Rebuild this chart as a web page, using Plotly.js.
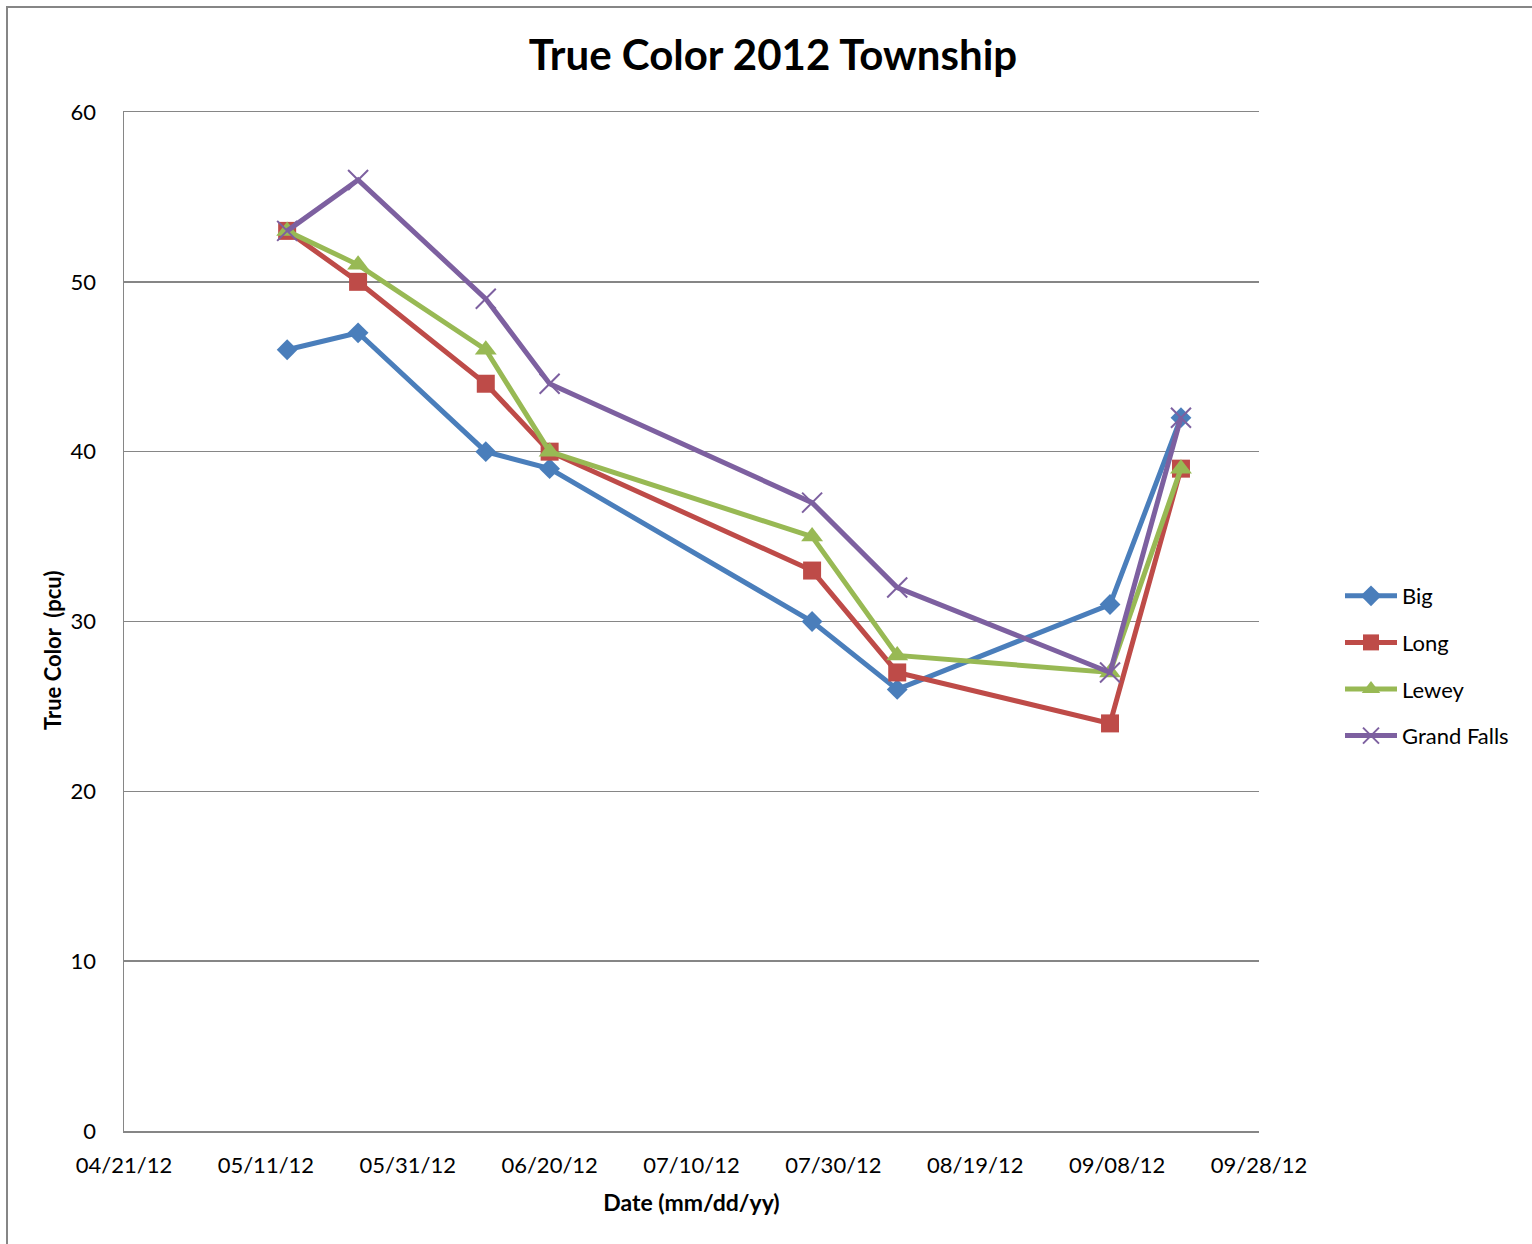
<!DOCTYPE html>
<html>
<head>
<meta charset="utf-8">
<script src="https://cdn.plot.ly/plotly-3.0.1.min.js"></script>
<style>
  html, body { margin: 0; padding: 0; background: #ffffff; }
  #chart { width: 1532px; height: 1244px; }
</style>
</head>
<body>
<div id="chart"></div>
<script>
// Sampling dates for the 2012 season
const sampleDates = ['2012-05-14', '2012-05-24', '2012-06-11', '2012-06-20',
                     '2012-07-27', '2012-08-08', '2012-09-07', '2012-09-17'];

// True colour (pcu) per lake
const bigValues        = [46, 47, 40, 39, 30, 26, 31, 42];
const longValues       = [53, 50, 44, 40, 33, 27, 24, 39];
const leweyValues      = [53, 51, 46, 40, 35, 28, 27, 39];
const grandFallsValues = [53, 56, 49, 44, 37, 32, 27, 42];

const seriesNames = ['Big', 'Long', 'Lewey', 'Grand Falls'];

const FONT = 'Lato, "Open Sans", sans-serif';
const GRID = '#868686';

function series(name, values, color, marker) {
  return {
    type: 'scatter',
    mode: 'lines+markers',
    name: name,
    legendgroup: name,
    x: sampleDates,
    y: values,
    line: { color: color, width: 5 },
    marker: Object.assign({ color: color }, marker)
  };
}

const traces = [
  series(seriesNames[0], bigValues, '#4A7EBB', { symbol: 'diamond', size: 16 }),
  series(seriesNames[1], longValues, '#BE4B48', { symbol: 'square', size: 18 }),
  series(seriesNames[2], leweyValues, '#98B954', { symbol: 'triangle-up', size: 19 }),
  series(seriesNames[3], grandFallsValues, '#7D60A0',
         { symbol: 'x-thin', size: 20, line: { color: '#7D60A0', width: 2 } })
];

const L = 124, R = 1259, T = 112, B = 1131, W = 1532, H = 1244;
const pw = R - L, ph = B - T;
const px = v => (v - L) / pw;
const py = v => (B - v) / ph;

const layout = {
  width: W,
  height: H,
  margin: { l: L, r: W - R, t: T, b: H - B, pad: 0 },
  paper_bgcolor: '#ffffff',
  plot_bgcolor: '#ffffff',
  font: { family: FONT, size: 20, color: '#000000' },
  title: {
    text: '<b>True Color 2012 Township</b>',
    font: { family: FONT, size: 42, color: '#000000' },
    x: 773 / W, xref: 'container', xanchor: 'center',
    y: 1 - 55 / H, yref: 'container', yanchor: 'middle'
  },
  xaxis: {
    type: 'date',
    range: ['2012-04-21', '2012-09-28'],
    tick0: '2012-04-21',
    dtick: 20 * 86400000,
    tickformat: '%m/%d/%y',
    showgrid: false,
    showline: true,
    mirror: true,
    linecolor: GRID,
    linewidth: 1.5,
    ticks: '',
    ticklabelstandoff: 14,
    tickfont: { family: FONT, size: 22 },
    zeroline: false,
    title: { text: '<b>Date (mm/dd/yy)</b>', font: { family: FONT, size: 23 }, standoff: 18 }
  },
  yaxis: {
    range: [0, 60],
    dtick: 10,
    showgrid: true,
    gridcolor: GRID,
    gridwidth: 1.5,
    showline: true,
    linecolor: GRID,
    linewidth: 1.5,
    ticks: '',
    ticklabelstandoff: 22,
    tickfont: { family: FONT, size: 22 },
    zeroline: false
  },
  annotations: [
    {
      text: '<b>True Color  (pcu)</b>',
      textangle: -90,
      xref: 'paper', yref: 'paper',
      x: px(52), y: py(650),
      xanchor: 'center', yanchor: 'middle',
      showarrow: false,
      font: { family: FONT, size: 22, color: '#000000' }
    }
  ],
  legend: {
    x: px(1340), xanchor: 'left',
    y: py(666), yanchor: 'middle',
    font: { family: FONT, size: 22 },
    traceorder: 'grouped',
    tracegroupgap: 15,
    itemwidth: 52,
    bgcolor: 'rgba(0,0,0,0)'
  },
  shapes: [
    // outer chart frame (left and top edges)
    {
      type: 'path', xref: 'paper', yref: 'paper', layer: 'below',
      path: `M ${px(7)},${py(1300)} L ${px(7)},${py(7)} L ${px(1600)},${py(7)}`,
      line: { color: GRID, width: 2 }
    }
  ],
  showlegend: true
};

Plotly.newPlot('chart', traces, layout, { displayModeBar: false, staticPlot: true });
</script>
</body>
</html>
